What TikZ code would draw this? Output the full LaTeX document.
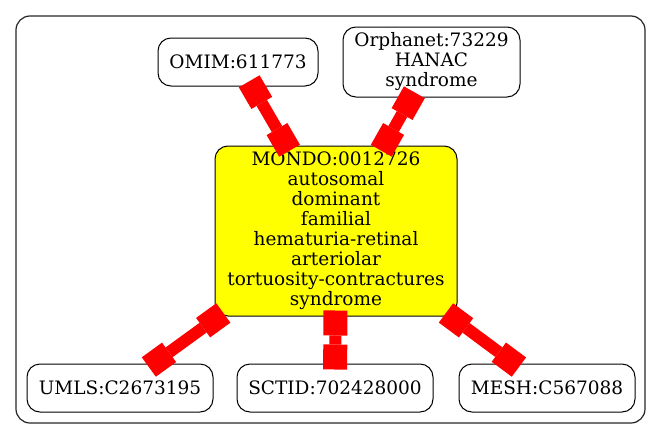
\documentclass[tikz,border=0pt]{standalone}
\usepackage{fontspec}
\setmainfont{DejaVu Serif}
\usetikzlibrary{arrows.meta}
\definecolor{hiyellow}{RGB}{255,255,0}
\definecolor{linkred}{RGB}{255,0,0}
\begin{document}
\begin{tikzpicture}[x=1pt,y=-1pt,
  every node/.style={font=\fontsize{18.5}{20}\selectfont},
  term/.style={draw=black, line width=1pt, rounded corners=13pt, align=center, inner sep=0pt},
  link/.style={draw=linkred, line width=12pt, {Square[length=25pt,width=24pt,line width=0pt]}-{Square[length=25pt,width=24pt,line width=0pt]}, shorten <=-6pt, shorten >=-6pt}]
\useasboundingbox (0,0) rectangle (661,439);
\draw[line width=1.2pt, rounded corners=14pt, draw=black!85] (16,16) rectangle (645,423);
\node[term, minimum width=160pt, minimum height=48pt] (omim) at (238,62) {OMIM:611773};
\node[term, minimum width=177pt, minimum height=70pt] (orpha) at (431.5,62) {Orphanet:73229\\HANAC\\syndrome};
\node[term, fill=hiyellow, minimum width=242pt, minimum height=170pt] (mondo) at (336,231) {MONDO:0012726\\autosomal\\dominant\\familial\\hematuria-retinal\\arteriolar\\tortuosity-contractures\\syndrome};
\node[term, minimum width=186pt, minimum height=48pt] (umls) at (120,388) {UMLS:C2673195};
\node[term, minimum width=196pt, minimum height=48pt] (sctid) at (335,388) {SCTID:702428000};
\node[term, minimum width=176pt, minimum height=48pt] (mesh) at (547,388) {MESH:C567088};
\draw[link] (omim) -- (mondo);
\draw[link] (orpha) -- (mondo);
\draw[link] (mondo) -- (umls);
\draw[link] (mondo) -- (sctid);
\draw[link] (mondo) -- (mesh);
\end{tikzpicture}
\end{document}
